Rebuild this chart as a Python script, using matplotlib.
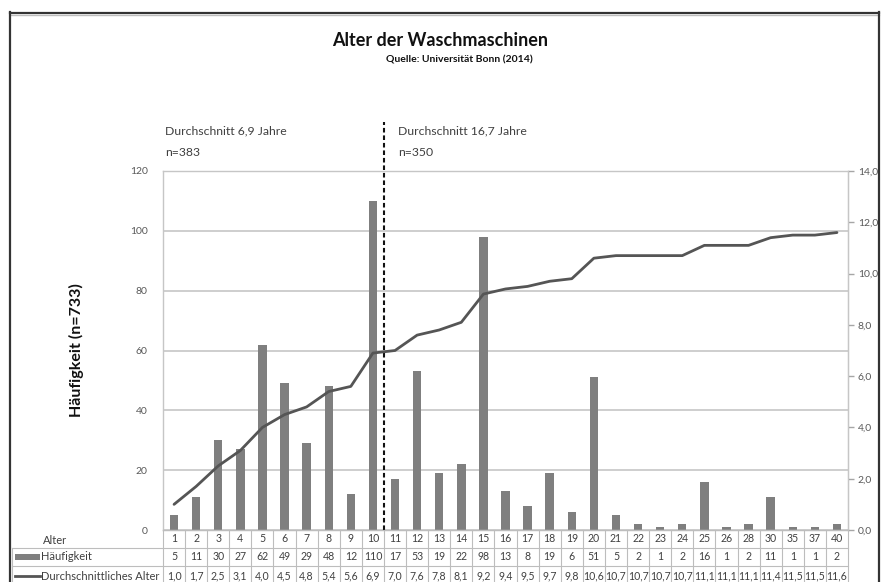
import numpy as np
import matplotlib
matplotlib.use("Agg")
import matplotlib.pyplot as plt
from matplotlib.lines import Line2D
from matplotlib.patches import Rectangle
import matplotlib.transforms as mtransforms
from matplotlib.ticker import FuncFormatter

# ---------------- data ----------------
ages = ["1", "2", "3", "4", "5", "6", "7", "8", "9", "10", "11", "12", "13", "14", "15",
        "16", "17", "18", "19", "20", "21", "22", "23", "24", "25", "26", "28", "30",
        "35", "37", "40"]
counts = [5, 11, 30, 27, 62, 49, 29, 48, 12, 110, 17, 53, 19, 22, 98, 13, 8, 19, 6, 51,
          5, 2, 1, 2, 16, 1, 2, 11, 1, 1, 2]
mean_age = [1.0, 1.7, 2.5, 3.1, 4.0, 4.5, 4.8, 5.4, 5.6, 6.9, 7.0, 7.6, 7.8, 8.1, 9.2,
            9.4, 9.5, 9.7, 9.8, 10.6, 10.7, 10.7, 10.7, 10.7, 11.1, 11.1, 11.1, 11.4,
            11.5, 11.5, 11.6]
title = "Alter der Waschmaschinen"
subtitle = "Quelle: Universität Bonn (2014)"
ylabel = "Häufigkeit (n=733)"
row_labels = ["Alter", "Häufigkeit", "Durchschnittliches Alter"]
left_note = ["Durchschnitt 6,9 Jahre", "n=383"]
right_note = ["Durchschnitt 16,7 Jahre", "n=350"]
split_after = 10  # index boundary between age 10 and 11

plt.rcParams['font.family'] = ['Lato', 'DejaVu Sans']

W, H = 885, 582
fig = plt.figure(figsize=(W / 100, H / 100), dpi=100)
fig.patch.set_facecolor('white')

L, R, T, B = 163, 848, 171, 530
ax = fig.add_axes([L / W, 1 - B / H, (R - L) / W, (B - T) / H])
n = len(ages)
x = np.arange(n)

grid_c = '#c6c6c6'
txt_c = '#595959'

ax.bar(x, counts, width=0.38, color='#7f7f7f', zorder=2)
ax.set_xlim(-0.5, n - 0.5)
ax.set_ylim(0, 120)
ax.set_yticks(range(0, 121, 20))
ax.yaxis.grid(True, color=grid_c, lw=1.2)
ax.set_axisbelow(True)
ax.set_xticks([])
ax.tick_params(axis='y', length=0, pad=11, labelsize=7.5, labelcolor=txt_c)
for s in ax.spines.values():
    s.set_color(grid_c)
    s.set_linewidth(1.0)

ax2 = ax.twinx()
ax2.plot(x, mean_age, color='#555555', lw=2.0, zorder=3, solid_capstyle='round')
ax2.set_ylim(0, 14)
ax2.set_yticks(np.arange(0, 15, 2))
ax2.yaxis.set_major_formatter(FuncFormatter(lambda v, p: f"{v:.1f}".replace('.', ',')))
ax2.tick_params(axis='y', length=4, width=1, color='#a6a6a6', labelsize=7.5,
                labelcolor=txt_c, pad=3)
for s in ax2.spines.values():
    s.set_visible(False)
ax2.spines['right'].set_visible(True)
ax2.spines['right'].set_color(grid_c)

# dashed split line
trans = mtransforms.blended_transform_factory(ax.transData, ax.transAxes)
ax.plot([split_after - 0.5, split_after - 0.5], [0, 1 + (T - 122) / (B - T)],
        transform=trans, color='#111111', lw=1.5, ls=(0, (2.2, 1.4)),
        clip_on=False, zorder=5)

# notes above plot
pix = fig.dpi_scale_trans
def P(px, py):
    return (px / 100, (H - py) / 100)

note_fs = 8.8
fig.text(*P(165, 131), left_note[0], transform=pix, fontsize=note_fs, color='#404040', va='center')
fig.text(*P(165, 152), left_note[1], transform=pix, fontsize=note_fs, color='#404040', va='center')
fig.text(*P(398, 131), right_note[0], transform=pix, fontsize=note_fs, color='#404040', va='center')
fig.text(*P(398, 152), right_note[1], transform=pix, fontsize=note_fs, color='#404040', va='center')

fig.text(*P(440, 40), title, transform=pix, fontsize=13, fontweight='bold',
         ha='center', va='center', color='#111111')
fig.text(*P(459, 60), subtitle, transform=pix, fontsize=7.5, fontweight='bold',
         ha='center', va='center', color='#111111')
fig.text(*P(76, 350), ylabel, transform=pix, fontsize=11.5, fontweight='bold',
         ha='center', va='center', rotation=90, color='#111111')

# ---------------- data table ----------------
colw = (R - L) / n
tab_c = '#bdbdbd'
row_y = [530, 548, 566, 584]  # pixel rows (top edges)
tcol = '#404040'

for i in range(n + 1):
    xp = L + i * colw
    fig.add_artist(Line2D([xp / 100] * 2, [(H - row_y[0]) / 100, (H - row_y[3]) / 100],
                          transform=pix, color=tab_c, lw=0.8))
fig.add_artist(Line2D([12 / 100] * 2, [(H - row_y[1]) / 100, (H - row_y[3]) / 100],
                      transform=pix, color=tab_c, lw=0.8))
fig.add_artist(Line2D([L / 100, R / 100], [(H - row_y[0]) / 100] * 2,
                      transform=pix, color=tab_c, lw=0.8))
for ry in row_y[1:3]:
    fig.add_artist(Line2D([12 / 100, R / 100], [(H - ry) / 100] * 2,
                          transform=pix, color=tab_c, lw=0.8))

rows = [ages, [str(c) for c in counts], [f"{v:.1f}".replace('.', ',') for v in mean_age]]
for r, vals in enumerate(rows):
    yc = (row_y[r] + row_y[r + 1]) / 2
    if r == 2:
        yc = 576
    for i, v in enumerate(vals):
        xc = L + (i + 0.5) * colw
        fig.text(*P(xc, yc), v, transform=pix, fontsize=7.6, ha='center', va='center',
                 color=tcol)

# row labels
lab_fs = 8.0
fig.text(*P(43, 540), row_labels[0], transform=pix, fontsize=lab_fs, va='center', color=tcol)
fig.add_artist(Rectangle(P(15, 560), 25 / 100, 6 / 100, transform=pix,
                         color='#7f7f7f', lw=0))
fig.text(*P(41, 557), row_labels[1], transform=pix, fontsize=lab_fs, va='center', color=tcol)
fig.add_artist(Line2D([15 / 100, 40 / 100], [(H - 576) / 100] * 2, transform=pix,
                      color='#555555', lw=2))
fig.text(*P(41, 576), row_labels[2], transform=pix, fontsize=lab_fs, va='center', color=tcol)

# figure frame
frame_c = '#333333'
fig.add_artist(Line2D([10 / 100, 879 / 100], [(H - 12.5) / 100] * 2, transform=pix,
                      color=frame_c, lw=1.6))
fig.add_artist(Line2D([10 / 100, 879 / 100], [(H - 14.5) / 100] * 2, transform=pix,
                      color='#bdbdbd', lw=1.0))
fig.add_artist(Line2D([10 / 100] * 2, [(H - 12) / 100, -0.1], transform=pix,
                      color=frame_c, lw=1.6))
fig.add_artist(Line2D([879 / 100] * 2, [(H - 12) / 100, -0.1], transform=pix,
                      color=frame_c, lw=1.6))

fig.savefig("out.png", dpi=100, facecolor='white')
